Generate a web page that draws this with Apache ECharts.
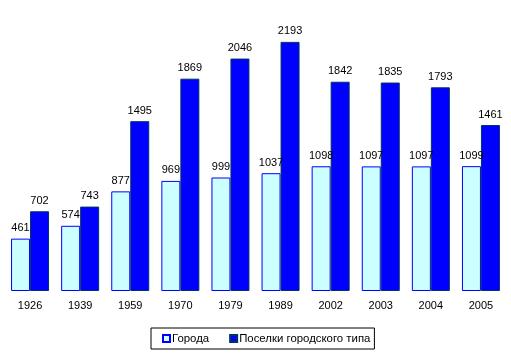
<!DOCTYPE html>
<html><head><meta charset="utf-8">
<script src="https://cdn.jsdelivr.net/npm/echarts@6/dist/echarts.min.js"></script>
<style>html,body{margin:0;padding:0;background:#fff}#c{width:511px;height:358px}</style>
</head><body><div id="c"></div>
<script>
const categories = ['1926','1939','1959','1970','1979','1989','2002','2003','2004','2005'];
const cities = [461,574,877,969,999,1037,1098,1097,1097,1099];
const towns = [702,743,1495,1869,2046,2193,1842,1835,1793,1461];
const seriesNames = ['Города','Поселки городского типа'];
const chart = echarts.init(document.getElementById('c'));
const font = 'Liberation Sans, Arial, sans-serif';
chart.setOption({
  animation:false,
  grid:{left:5,right:5,top:7,bottom:67,containLabel:false},
  xAxis:{type:'category',data:categories,axisLine:{show:false},axisTick:{show:false},
    axisLabel:{color:'#000',fontSize:11,fontFamily:font,margin:9}},
  yAxis:{type:'value',min:0,max:2500,show:false,splitLine:{show:false}},
  legend:{bottom:9,left:151,itemWidth:7,itemHeight:7,itemGap:20,icon:'rect',
    borderColor:'#000',borderWidth:1,borderRadius:0,padding:[5,4,5,11],
    textStyle:{fontSize:11.4,fontFamily:font,color:'#000',padding:[0,0,0,-3]},
    data:seriesNames},
  series:[
    {name:seriesNames[0],type:'bar',data:cities,barWidth:19,barGap:'0%',
     itemStyle:{color:'#CCFFFF',borderColor:'#0000FF',borderWidth:1},
     label:{show:true,position:'top',distance:5,color:'#000',fontSize:11,fontFamily:font}},
    {name:seriesNames[1],type:'bar',data:towns,barWidth:19,
     itemStyle:{color:'#0000FF',borderColor:'#003366',borderWidth:1},
     label:{show:true,position:'top',distance:5,color:'#000',fontSize:11,fontFamily:font}}
  ]
});
</script></body></html>
